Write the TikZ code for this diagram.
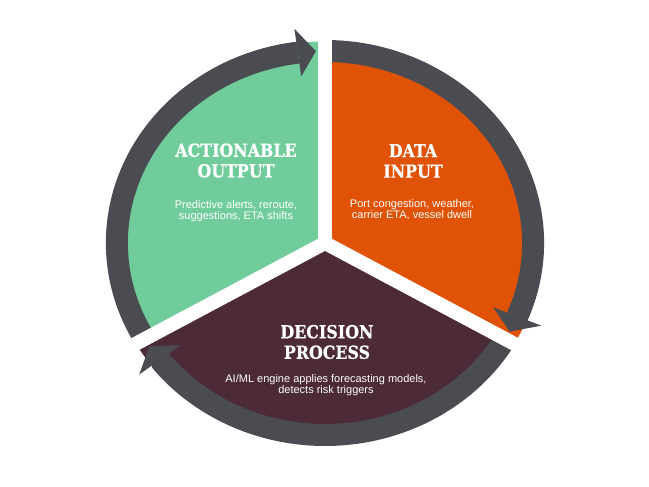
\documentclass[tikz,border=0pt]{standalone}
\usepackage{fontspec}
\setmainfont{Liberation Sans}
\newfontfamily\slabfont{DejaVu Serif}[FakeStretch=0.88,FakeBold=0.5]
\definecolor{cyclegreen}{HTML}{70CD9B}
\definecolor{cycleorange}{HTML}{E05306}
\definecolor{cycleplum}{HTML}{4C2A38}
\definecolor{ringgray}{HTML}{4B4C51}

\begin{document}
\begin{tikzpicture}[x=1pt,y=1pt,
    title/.style={text=white,align=center,font=\slabfont\bfseries\fontsize{18}{20.5}\selectfont},
    body/.style={text=white,align=center,font=\fontsize{11}{11.3}\selectfont}]
  \useasboundingbox[fill=white] (-325,-244) rectangle (324,243);
  \begin{scope}[xscale=1.084]
    % the three sectors
    \fill[cyclegreen] (0,0) -- (90:201.5) arc[start angle=90,end angle=210,radius=201.5] -- cycle;
    \fill[cycleorange] (0,0) -- (-30:201.5) arc[start angle=-30,end angle=90,radius=201.5] -- cycle;
    \fill[cycleplum] (0,0) -- (210:201.5) arc[start angle=210,end angle=330,radius=201.5] -- cycle;
    % ring arrows, clockwise
    \foreach \g in {90,-30,210}
      \draw[ringgray,line width=22] (\g:192) arc[start angle=\g,delta angle=-112.5,radius=192];
    \foreach \g in {90,-30,210}
      \draw[white,line width=14] (0,0) -- (\g:240);
    \foreach \g in {90,-30,210}
      \fill[ringgray] ({\g+7.5}:168) -- ({\g+2.5}:192) -- ({\g+7.5}:216) -- cycle;
  \end{scope}
  \node[title] (outhead) at (-89,82.5) {ACTIONABLE\\OUTPUT};
  \node[body] (outtext) at (-89,32) {Predictive alerts, reroute,\\suggestions, ETA shifts};
  \node[title] (inhead) at (88,82) {DATA\\INPUT};
  \node[body] (intext) at (87,33) {Port congestion, weather,\\carrier ETA, vessel dwell};
  \node[title] (dechead) at (2,-99) {DECISION\\PROCESS};
  \node[body,font=\fontsize{11}{10.5}\selectfont] (dectext) at (1,-142) {AI/ML engine applies forecasting models,\\detects risk triggers};
\end{tikzpicture}
\end{document}
